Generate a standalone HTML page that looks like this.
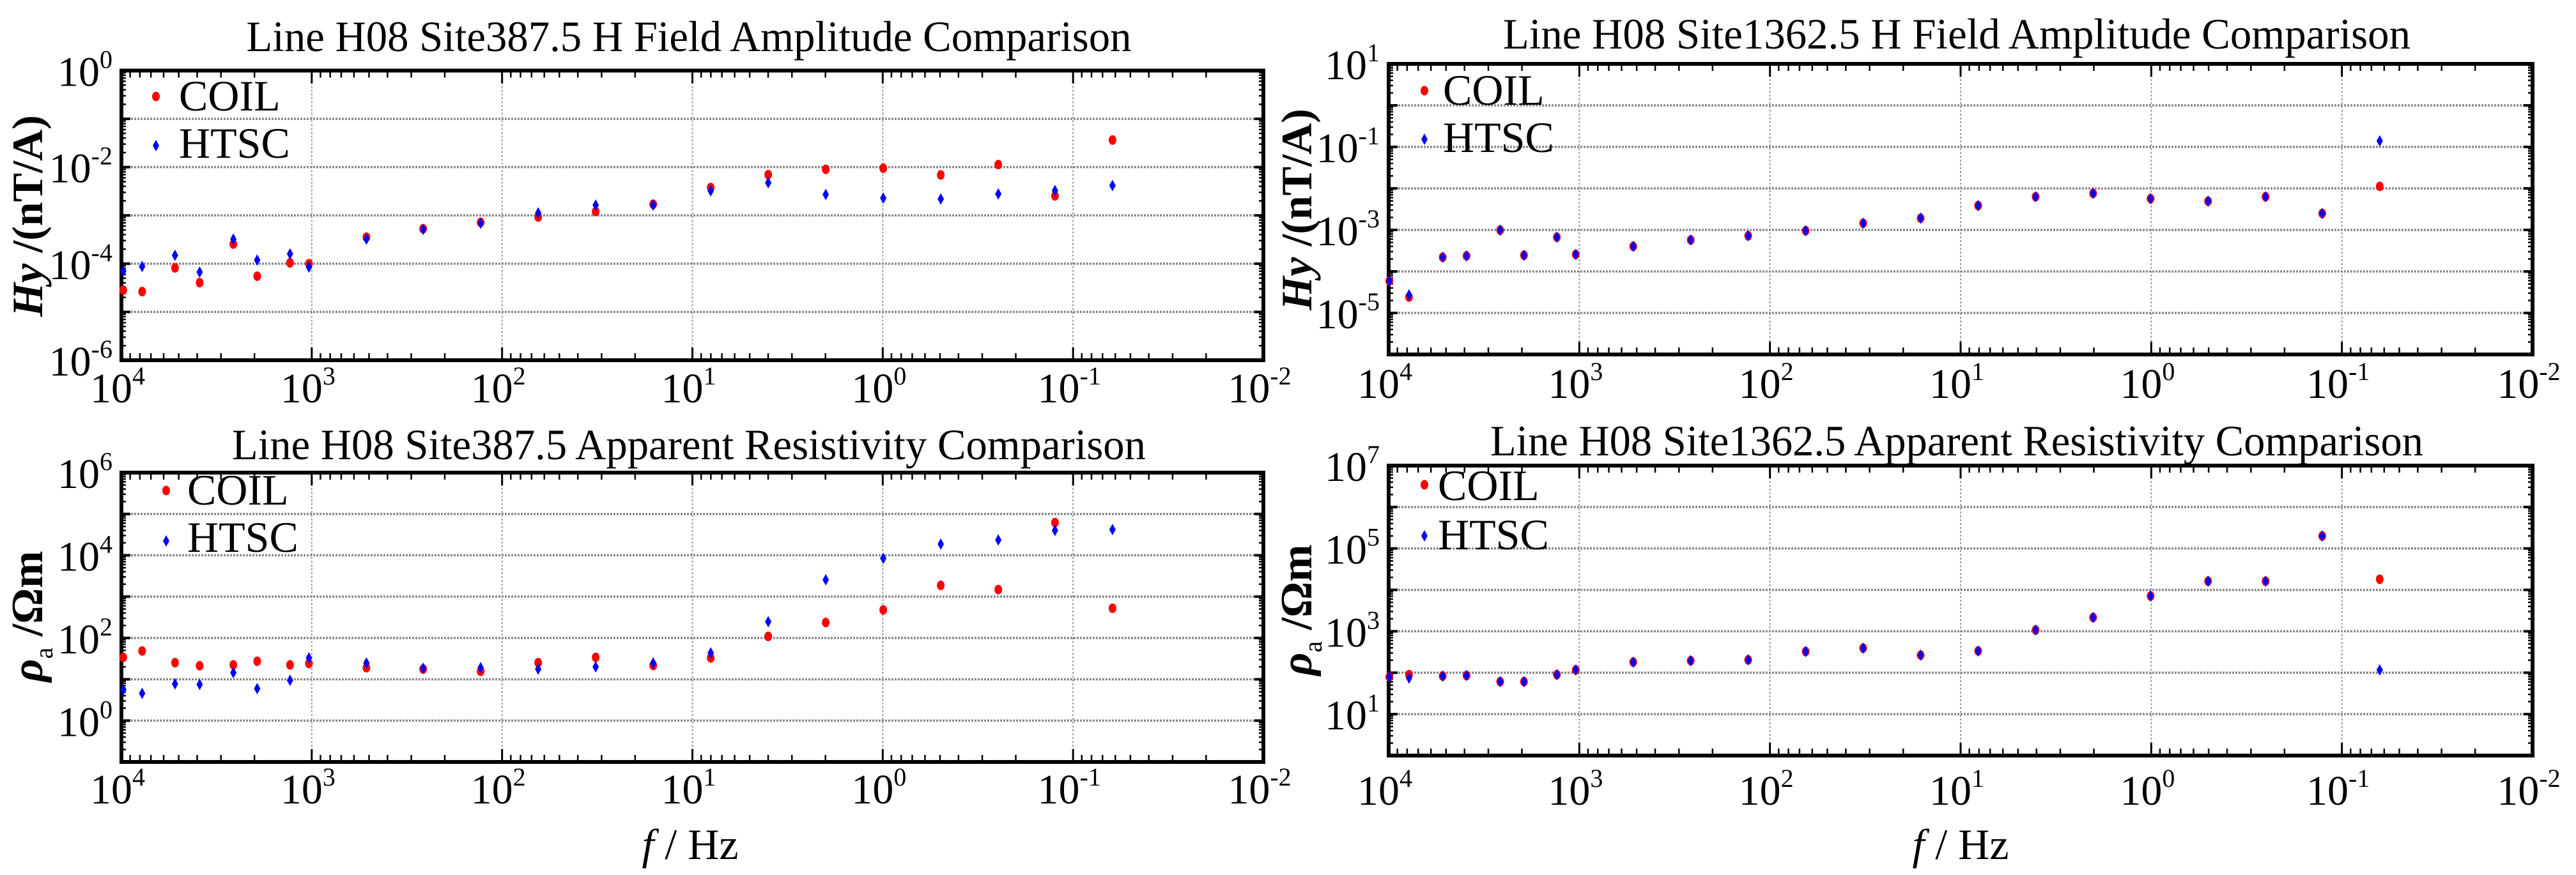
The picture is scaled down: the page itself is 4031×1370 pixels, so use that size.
<!DOCTYPE html>
<html><head><meta charset="utf-8">
<style>
html,body{margin:0;padding:0;background:#fff;}
svg{display:block;}
text{font-family:"Liberation Serif",serif;fill:#000;}
</style></head>
<body>
<svg id="s" xmlns="http://www.w3.org/2000/svg" width="4031" height="1370" viewBox="0 0 4031 1370">
<rect width="4031" height="1370" fill="#fff"/>
<text x="1078" y="80" font-size="68" text-anchor="middle" textLength="1385" lengthAdjust="spacingAndGlyphs">Line H08 Site387.5 H Field Amplitude Comparison</text>
<text x="1078" y="719" font-size="68" text-anchor="middle" textLength="1430" lengthAdjust="spacingAndGlyphs">Line H08 Site387.5 Apparent Resistivity Comparison</text>
<text x="3062" y="76" font-size="68" text-anchor="middle" textLength="1420" lengthAdjust="spacingAndGlyphs">Line H08 Site1362.5 H Field Amplitude Comparison</text>
<text x="3062" y="713" font-size="68" text-anchor="middle" textLength="1460" lengthAdjust="spacingAndGlyphs">Line H08 Site1362.5 Apparent Resistivity Comparison</text>
<text x="1080" y="1345" font-size="68" text-anchor="middle"><tspan font-style="italic">f</tspan> / Hz</text>
<text x="3068" y="1345" font-size="68" text-anchor="middle"><tspan font-style="italic">f</tspan> / Hz</text>
<text transform="translate(66,338) rotate(-90)" font-size="68" text-anchor="middle" font-weight="bold"><tspan font-style="italic">Hy</tspan> /(nT/A)</text>
<text transform="translate(2052,328) rotate(-90)" font-size="68" text-anchor="middle" font-weight="bold"><tspan font-style="italic">Hy</tspan> /(nT/A)</text>
<text transform="translate(66,965) rotate(-90)" font-size="70" text-anchor="middle" font-weight="bold"><tspan font-style="italic">ρ</tspan><tspan font-size="40" font-weight="normal" dy="16">a</tspan><tspan dy="-16"> /Ωm</tspan></text>
<text transform="translate(2052,955) rotate(-90)" font-size="70" text-anchor="middle" font-weight="bold"><tspan font-style="italic">ρ</tspan><tspan font-size="40" font-weight="normal" dy="16">a</tspan><tspan dy="-16"> /Ωm</tspan></text>
<g id="g"></g>
</svg>
<script>
var g=document.getElementById('g');var h='';
var xs=[150,173,213,243,284,313,353,376,446,515,585,655,725,795,865,935,1005,1075,1145,1215,1284,1354];
var xsR=[123,147,188,217,258,287,327,350,420,490,560,630,700,770,840,910,980,1050,1120,1190,1259,1329];
var P=[
{L:190,R:1977,T:110.5,B:564,ymax:0,ymin:-6,lab:[0,-2,-4,-6],xl:630,ox:0,oy:0,sx:2016/1568,xs:xs,
 c:[1040,1045,960,1013,875,990,942,945,850,820,797,778,758,732,672,626,607,603,627,590,702,502],
 hs:[972,955,915,975,857,932,910,957,857,822,800,763,735,735,684,655,697,710,713,695,683,665],
 leg:[244,151,280,173,228,247]},
{L:190,R:1977,T:740,B:1193,ymax:6,ymin:-1,lab:[0,2,4,6],xl:1258,ox:0,oy:685,sx:2016/1568,xs:xs,
 c:[788,765,807,818,815,802,815,810,825,830,838,807,788,817,790,713,663,618,530,545,305,612],
 hs:[905,917,883,885,843,900,870,790,808,827,825,830,822,808,772,660,510,433,382,367,333,330],
 leg:[260,768,293,790,847,864]},
{L:2173,R:3963,T:100,B:555,ymax:1,ymin:-6,lab:[1,-1,-3,-5],xl:623,ox:2016,oy:0,sx:2015/1568,xs:xsR,
 c:[1007,1065,922,917,825,915,850,912,883,860,845,827,800,782,737,705,693,712,721,705,765,668],
 hs:[1007,1057,922,917,825,915,850,912,883,860,845,827,800,782,737,705,693,712,721,705,765,505],
 leg:[2229,142,2258,164,218,238]},
{L:2173,R:3963,T:729,B:1183,ymax:7,ymin:0,lab:[1,3,5,7],xl:1260,ox:2016,oy:685,sx:2015/1568,xs:xsR,
 c:[858,850,855,853,875,875,850,833,805,800,797,767,755,780,765,690,645,568,515,515,353,508],
 hs:[858,862,855,853,875,875,850,833,805,800,797,767,755,780,765,690,645,568,515,515,353,833],
 leg:[2229,759,2250,783,839,860]}
];
function lab(x,y,e,anchor){
 return '<text x="'+x+'" y="'+y+'" font-size="66" text-anchor="'+anchor+'">10<tspan font-size="40" dy="-28">'+e+'</tspan></text>';
}
P.forEach(function(p){
 var W=p.R-p.L,H=p.B-p.T,nd=p.ymax-p.ymin;
 function X(d){return p.L+(4-d)*W/6;}
 function Y(d){return p.T+(p.ymax-d)*H/nd;}
 for(var d=-1;d<=3;d++){h+='<line x1="'+X(d)+'" y1="'+p.T+'" x2="'+X(d)+'" y2="'+p.B+'" stroke="#999" stroke-width="2" stroke-dasharray="3,3"/>';}
 for(var d=p.ymin+1;d<p.ymax;d++){h+='<line x1="'+p.L+'" y1="'+Y(d)+'" x2="'+p.R+'" y2="'+Y(d)+'" stroke="#888" stroke-width="3.5" stroke-dasharray="3,2"/>';}
 for(var d=4;d>=-2;d--){
  var x=X(d);
  h+='<line x1="'+x+'" y1="'+p.T+'" x2="'+x+'" y2="'+(p.T+20)+'" stroke="#000" stroke-width="3"/>';
  h+='<line x1="'+x+'" y1="'+p.B+'" x2="'+x+'" y2="'+(p.B-20)+'" stroke="#000" stroke-width="3"/>';
  h+=lab(x-6,p.xl,d,'middle');
  if(d>-2)for(var k=2;k<10;k++){var xm=X(d-1+Math.log10(k));
   h+='<line x1="'+xm+'" y1="'+p.T+'" x2="'+xm+'" y2="'+(p.T+11)+'" stroke="#000" stroke-width="2.5"/>';
   h+='<line x1="'+xm+'" y1="'+p.B+'" x2="'+xm+'" y2="'+(p.B-11)+'" stroke="#000" stroke-width="2.5"/>';}
 }
 for(var d=p.ymin;d<=p.ymax;d++){
  var y=Y(d);
  h+='<line x1="'+p.L+'" y1="'+y+'" x2="'+(p.L+14)+'" y2="'+y+'" stroke="#000" stroke-width="4"/>';
  h+='<line x1="'+p.R+'" y1="'+y+'" x2="'+(p.R-14)+'" y2="'+y+'" stroke="#000" stroke-width="4"/>';
  if(d<p.ymax)for(var k=2;k<10;k++){var ym=Y(d+Math.log10(k));
   h+='<line x1="'+p.L+'" y1="'+ym+'" x2="'+(p.L+7)+'" y2="'+ym+'" stroke="#000" stroke-width="2.5"/>';
   h+='<line x1="'+p.R+'" y1="'+ym+'" x2="'+(p.R-7)+'" y2="'+ym+'" stroke="#000" stroke-width="2.5"/>';}
 }
 p.lab.forEach(function(e){h+=lab(p.L-14,Y(e)+24,e,'end');});
 h+='<rect x="'+p.L+'" y="'+p.T+'" width="'+W+'" height="'+H+'" fill="none" stroke="#000" stroke-width="6"/>';
 for(var i=0;i<p.xs.length;i++){
  var x=p.ox+p.xs[i]*p.sx;
  var yc=p.oy+p.c[i]*685/1568, yh=p.oy+p.hs[i]*685/1568;
  h+='<ellipse cx="'+x+'" cy="'+yc+'" rx="6" ry="7.5" fill="#f00"/>';
  h+='<polygon points="'+x+','+(yh-9)+' '+(x+5)+','+yh+' '+x+','+(yh+9)+' '+(x-5)+','+yh+'" fill="#00f"/>';
 }
 var l=p.leg;
 h+='<ellipse cx="'+l[0]+'" cy="'+l[1]+'" rx="6" ry="7.5" fill="#f00"/>';
 h+='<text x="'+l[2]+'" y="'+l[3]+'" font-size="68">COIL</text>';
 h+='<polygon points="'+l[0]+','+(l[4]-9)+' '+(l[0]+5)+','+l[4]+' '+l[0]+','+(l[4]+9)+' '+(l[0]-5)+','+l[4]+'" fill="#00f"/>';
 h+='<text x="'+l[2]+'" y="'+l[5]+'" font-size="68">HTSC</text>';
});
g.innerHTML=h;
</script>
</body></html>
